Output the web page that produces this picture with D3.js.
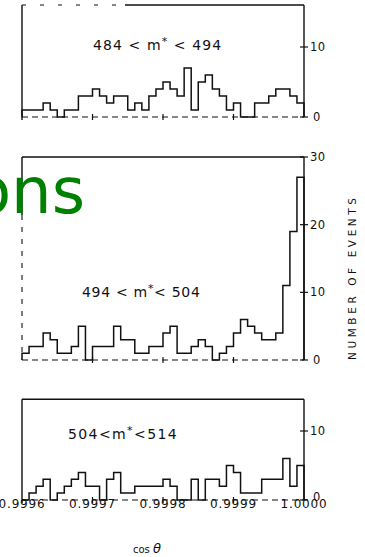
<!DOCTYPE html>
<html>
<head>
<meta charset="utf-8">
<script src="https://cdn.jsdelivr.net/npm/d3@7"></script>
<style>
  body { margin: 0; background: #fff; }
  svg { display: block; }
  text { font-family: "DejaVu Sans", sans-serif; fill: #111; }
</style>
</head>
<body>
<div id="chart"></div>
<script>
// cos(theta) bins, 0.9996 .. 1.0000, 40 bins
const binStart = 0.9996;
const binWidth = 0.00001;
const xTicks = [0.9996, 0.9997, 0.9998, 0.9999, 1.0000];
const xTickLabels = ["0.9996", "0.9997", "0.9998", "0.9999", "1.0000"];

// number of events per bin, one array per m* window
const counts484 = [1,1,1,2,1,0,1,1,3,3, 4,3,2,3,3,1,2,1,3,4, 5,4,3,7,1,5,6,4,3,1, 2,0,0,2,2,3,4,4,3,2];
const counts494 = [1,2,2,4,3,1,1,2,5,0, 2,2,2,5,3,3,1,1,2,2, 4,5,1,1,2,3,2,0,1,2, 4,6,5,4,3,3,4,11,19,27];
const counts504 = [0,1,2,3,0,1,2,3,4,2, 2,0,3,4,1,1,2,2,2,2, 3,2,0,0,3,0,3,3,2,5, 4,1,1,1,3,3,3,6,2,5];

const panelNames = ["484 < m", "494 < m", "504<m"];
const panelTails = ["  < 494", "< 504", "<514"];
const yTicks484 = [0, 10];
const yTicks494 = [0, 10, 20, 30];
const yTicks504 = [0, 10];

const W = 365, H = 557;
const svg = d3.select('#chart').append('svg')
    .attr('width', W)
    .attr('height', H);

const x = d3.scaleLinear().domain([0.9996, 1.0000]).range([22, 304]);

// layout of the three stacked panels
const panels = [
    { counts: counts484, ticks: yTicks484, dom: 10, y0: 117, y1: 47, top: 16,   name: panelNames[0], tail: panelTails[0], lx: 93, ly: 50,  ls: 1.1 },
    { counts: counts494, ticks: yTicks494, dom: 30, y0: 360, y1: 157, top: 30,  name: panelNames[1], tail: panelTails[1], lx: 82, ly: 297, ls: 0.7 },
    { counts: counts504, ticks: yTicks504, dom: 10, y0: 500, y1: 431, top: 14.6, name: panelNames[2], tail: panelTails[2], lx: 68, ly: 439, ls: 1.4 }
];

const line = d3.line();

panels.forEach((p, pi) => {
    const y = d3.scaleLinear().domain([0, p.dom]).range([p.y0, p.y1]);
    const g = svg.append('g');
    const yTop = y(p.top);

    // frame: left, right, top
    if (pi === 0) {
        g.append('line').attr('x1', x(0.9996)).attr('x2', 125).attr('y1', yTop).attr('y2', yTop)
            .attr('stroke', '#111').attr('stroke-width', 1.2).attr('stroke-dasharray', '4,14');
        g.append('line').attr('x1', 125).attr('x2', x(1.0)).attr('y1', yTop).attr('y2', yTop)
            .attr('stroke', '#111').attr('stroke-width', 1.4);
    } else {
        g.append('line').attr('x1', x(0.9996)).attr('x2', x(1.0)).attr('y1', yTop).attr('y2', yTop)
            .attr('stroke', '#111').attr('stroke-width', 1.4);
    }
    if (pi === 1) {
        g.append('line').attr('x1', x(0.9996)).attr('x2', x(0.9996)).attr('y1', yTop).attr('y2', 215)
            .attr('stroke', '#111').attr('stroke-width', 1.4);
        g.append('line').attr('x1', x(0.9996)).attr('x2', x(0.9996)).attr('y1', 215).attr('y2', p.y0)
            .attr('stroke', '#111').attr('stroke-width', 1.1).attr('stroke-dasharray', '5,7');
    } else {
        g.append('line').attr('x1', x(0.9996)).attr('x2', x(0.9996)).attr('y1', yTop).attr('y2', p.y0 + 3)
            .attr('stroke', '#111').attr('stroke-width', 1.4);
    }
    g.append('line').attr('x1', x(1.0)).attr('x2', x(1.0)).attr('y1', yTop).attr('y2', p.y0)
        .attr('stroke', '#111').attr('stroke-width', 1.4);

    // baseline (dashed in the scan)
    g.append('line').attr('x1', x(0.9996)).attr('x2', x(1.0)).attr('y1', p.y0).attr('y2', p.y0)
        .attr('stroke', '#111').attr('stroke-width', 1.1).attr('stroke-dasharray', '6,4');

    // bottom ticks
    xTicks.slice(1, 4).forEach(t => {
        g.append('line').attr('x1', x(t)).attr('x2', x(t)).attr('y1', p.y0 - 3).attr('y2', p.y0 + 3)
            .attr('stroke', '#111').attr('stroke-width', 1.2);
    });

    // right axis ticks and labels
    p.ticks.forEach(t => {
        g.append('line').attr('x1', x(1.0) - 4).attr('x2', x(1.0) + 4).attr('y1', y(t)).attr('y2', y(t))
            .attr('stroke', '#111').attr('stroke-width', 1.2);
        g.append('text').attr('x', t === 0 ? 313 : 310)
            .attr('y', (pi === 2 && t === 0) ? y(t) - 3 : y(t)).attr('dy', '0.36em')
            .attr('font-size', 11.5).attr('letter-spacing', 0.5).text(t);
    });

    // step histogram
    const pts = [[x(binStart), y(0)]];
    p.counts.forEach((c, i) => {
        const a = binStart + i * binWidth;
        pts.push([x(a), y(c)]);
        pts.push([x(a + binWidth), y(c)]);
    });
    pts.push([x(binStart + p.counts.length * binWidth), y(0)]);
    g.append('path').attr('d', line(pts))
        .attr('fill', 'none').attr('stroke', '#111').attr('stroke-width', 1.5)
        .attr('stroke-linejoin', 'miter');

    // m* window label
    const lab = g.append('text').attr('x', p.lx).attr('y', p.ly)
        .attr('font-size', 14).attr('letter-spacing', p.ls);
    lab.append('tspan').text(p.name);
    lab.append('tspan').attr('dy', -5).attr('font-size', 11).text('*');
    lab.append('tspan').attr('dy', 5).text(p.tail);
});

// x tick labels
svg.selectAll('.xl')
    .data(xTicks)
    .enter()
    .append('text')
    .attr('x', d => x(d))
    .attr('y', 508)
    .attr('text-anchor', 'middle')
    .attr('font-size', 12)
    .attr('letter-spacing', 0.8)
    .text((d, i) => xTickLabels[i]);

// axis titles
svg.append('text')
    .attr('transform', 'translate(356,279) rotate(-90)')
    .attr('text-anchor', 'middle')
    .attr('font-size', 10.5)
    .attr('textLength', 162)
    .attr('lengthAdjust', 'spacing')
    .text('NUMBER OF EVENTS');

const ct = svg.append('text').attr('x', 133).attr('y', 553);
ct.append('tspan').attr('font-size', 10).text('cos ');
ct.append('tspan').attr('font-size', 13).attr('font-style', 'italic').text('θ');

// overlaid green title fragment
svg.append('text')
    .attr('x', 85)
    .attr('y', 213)
    .attr('text-anchor', 'end')
    .attr('font-family', '"Liberation Sans", Arial, sans-serif')
    .attr('font-size', 64)
    .style('fill', '#008000')
    .text('ons');
</script>
</body>
</html>
